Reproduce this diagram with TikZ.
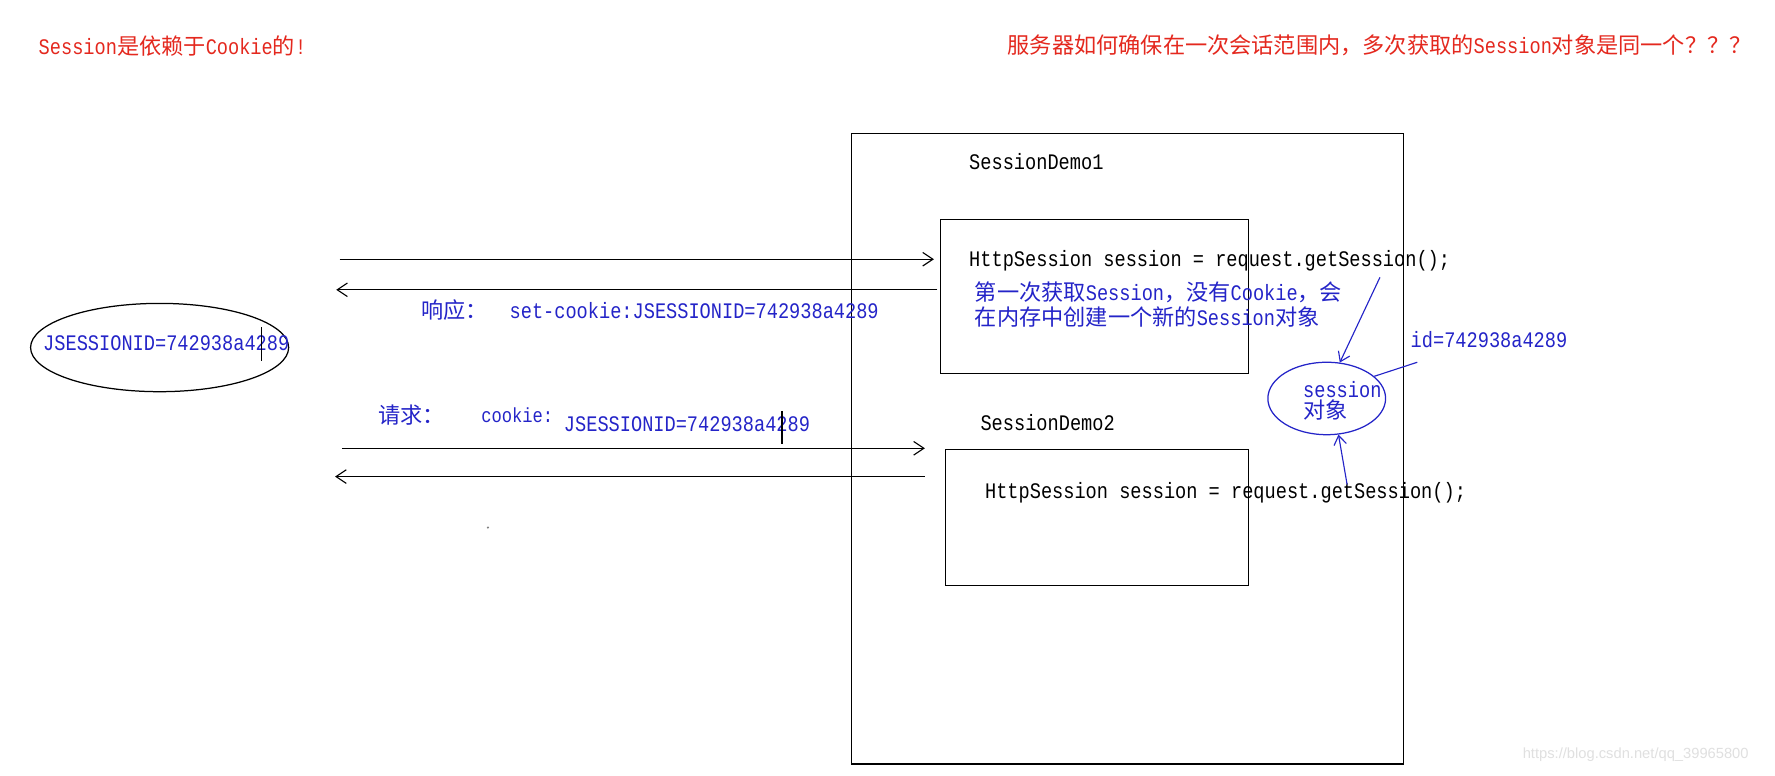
\documentclass[tikz,border=0pt]{standalone}
\usepackage{fontspec}
\setmainfont{Liberation Mono}[FakeStretch=0.84]
\newfontfamily\cjk{Noto Sans CJK SC}
\newfontfamily\wmfont{Liberation Sans}
\usetikzlibrary{arrows.meta,shapes.geometric}
\definecolor{redtxt}{RGB}{228,40,30}
\definecolor{bluetxt}{RGB}{36,36,200}
\newcommand{\zh}[1]{{\cjk #1}}
\begin{document}
\begin{tikzpicture}[x=1pt,y=-1pt,
  txt/.style={anchor=west,inner sep=0pt,font=\fontsize{19.6}{22}\selectfont},
  redt/.style={txt,text=redtxt},
  bluet/.style={txt,text=bluetxt},
  codet/.style={txt,text=black},
  frame/.style={draw=black,line width=1.2pt,inner sep=0pt},
  flow/.style={draw=black,line width=1.2pt,-{Straight Barb[length=9pt,width=12pt,line width=1pt]}},
  bflow/.style={draw=bluetxt,line width=1pt,-{Straight Barb[length=8pt,width=11pt,line width=1pt]}},
  cursor/.style={draw=black,line width=1.3pt}]
\useasboundingbox[fill=white] (0,0) rectangle (1568,685);

% titles
\node[redt] (t1) at (34,41) {Session\zh{是依赖于}Cookie\zh{的}!};
\node[redt] (t2) at (890,40) {\zh{服务器如何确保在一次会话范围内，多次获取的}Session\zh{对象是同一个？？？}};

% server frame and boxes
\node[frame,minimum width=488pt,minimum height=557pt] (server) at (996,396.5) {};
\node[frame,minimum width=272pt,minimum height=136pt] (box1) at (967,262) {};
\node[frame,minimum width=268pt,minimum height=120pt] (box2) at (969,457) {};

\node[codet] (sd1) at (856,143) {SessionDemo1};
\node[codet] (sd2) at (866,373) {SessionDemo2};
\node[codet] (code1) at (856,230) {HttpSession session = request.getSession();};
\node[codet] (code2) at (870,435) {HttpSession session = request.getSession();};

\node[bluet] (note1) at (861,258) {\zh{第一次获取}Session\zh{，没有}Cookie\zh{，会}};
\node[bluet] (note2) at (861,280) {\zh{在内存中创建一个新的}Session\zh{对象}};

% session object
\node[draw=bluetxt,line width=1.1pt,ellipse,minimum width=104pt,minimum height=64pt,inner sep=0pt] (sess) at (1172,352) {};
\node[bluet] (sesstxt) at (1151,344) {session};
\node[bluet] (sesstxt2) at (1151,362) {\zh{对象}};
\node[bluet] (idl) at (1246,300) {id=742938a4289};

\coordinate (c1s) at (1219,245);
\coordinate (c2s) at (1190,428);
\coordinate (ids) at (1252,320);
\draw[bflow] (c1s) -- (sess.70);
\draw[bflow] (c2s) -- (sess.-72);
\draw[draw=bluetxt,line width=1pt] (ids) -- (sess.25);

% browser cookie
\node[draw=black,line width=1.1pt,ellipse,minimum width=228pt,minimum height=78pt,inner sep=0pt] (cookie) at (141,307) {};
\node[bluet] (cookietxt) at (38,303) {JSESSIONID=742938a4289};
\coordinate (cur1a) at (231,289);
\coordinate (cur1b) at (231,319);
\draw[cursor] (cur1a) -- (cur1b);

% request / response arrows
\coordinate (a1s) at (300,229);
\coordinate (a1e) at (825,229);
\coordinate (a2s) at (828,256);
\coordinate (a2e) at (297,256);
\coordinate (a3s) at (302,396);
\coordinate (a3e) at (817,396);
\coordinate (a4s) at (817,421);
\coordinate (a4e) at (296,421);
\draw[flow] (a1s) -- (a1e);
\draw[flow] (a2s) -- (a2e);
\draw[flow] (a3s) -- (a3e);
\draw[flow] (a4s) -- (a4e);

\node[bluet] (resp) at (372,274) {\zh{响应：}};
\node[bluet] (setc) at (450,274) {set-cookie:JSESSIONID=742938a4289};
\node[bluet] (req) at (334,367) {\zh{请求：}};
\node[bluet,font=\fontsize{18}{20}\selectfont] (ck) at (425,367) {cookie:};
\node[bluet] (ckv) at (498,375) {JSESSIONID=742938a4289};
\coordinate (cur2a) at (691,363);
\coordinate (cur2b) at (691,392);
\draw[cursor] (cur2a) -- (cur2b);

\fill[gray] (431,466) circle (1);

\node[anchor=west,inner sep=0pt,text=black!12,font=\wmfont\fontsize{13}{15}\selectfont] (wm) at (1345,667) {https://blog.csdn.net/qq\_39965800};
\end{tikzpicture}
\end{document}
